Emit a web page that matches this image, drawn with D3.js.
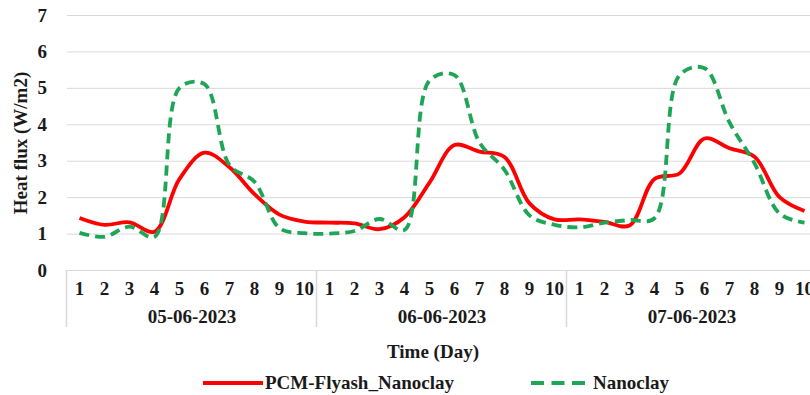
<!DOCTYPE html>
<html>
<head>
<meta charset="utf-8">
<script src="https://cdn.jsdelivr.net/npm/d3@7"></script>
<style>
    body { margin: 0; background: #fff; }
    svg { display: block; font-family: "Liberation Serif", "Times New Roman", serif; font-weight: bold; }
</style>
</head>
<body>
<svg id="chart"></svg>
<script>
// categories: 3 days x 10 readings
const dayLabels = ['1', '2', '3', '4', '5', '6', '7', '8', '9', '10'];
const dateLabels = ['05-06-2023', '06-06-2023', '07-06-2023'];
const yTicks = [0, 1, 2, 3, 4, 5, 6, 7];

// heat flux values (W/m2)
const pcmValues = [
    1.43, 1.24, 1.31, 1.05, 2.50, 3.22, 2.82, 2.08, 1.52, 1.33,
    1.30, 1.28, 1.12, 1.45, 2.40, 3.43, 3.25, 3.10, 1.83, 1.39,
    1.39, 1.32, 1.22, 2.50, 2.65, 3.61, 3.34, 3.11, 2.00, 1.62
];
const nanoValues = [
    1.02, 0.91, 1.19, 0.91, 5.00, 5.10, 2.88, 2.42, 1.15, 1.01,
    1.00, 1.07, 1.40, 1.10, 5.20, 5.35, 3.50, 2.75, 1.50, 1.24,
    1.17, 1.30, 1.37, 1.42, 5.35, 5.54, 4.05, 2.93, 1.55, 1.30
];

const seriesNames = ['PCM-Flyash_Nanoclay', 'Nanoclay'];

function drawChart() {
    const width = 810;
    const height = 395;
    const plot = { left: 67, right: 817, top: 15, bottom: 270 };
    const textColor = '#1a1a1a';
    const gridColor = '#d9d9d9';
    const red = '#ff0000';
    const green = '#1ea556';
    const fontSize = '19px';

    const svg = d3.select('#chart').attr('width', width).attr('height', height);

    const points = [];
    dateLabels.forEach((date, g) => {
        dayLabels.forEach((day, d) => {
            points.push({ key: `${g}-${d}`, date: date, day: day, group: g });
        });
    });

    const xScale = d3.scalePoint()
        .domain(points.map(p => p.key))
        .range([plot.left, plot.right])
        .padding(0.5);
    const step = xScale.step();

    const yScale = d3.scaleLinear()
        .domain([0, 7])
        .range([plot.bottom, plot.top]);

    // grid + y tick labels
    const yAxis = svg.append('g')
        .attr('transform', `translate(${plot.left}, 0)`)
        .call(d3.axisLeft(yScale)
            .tickValues(yTicks)
            .tickFormat(d3.format('d'))
            .tickSize(-(width - plot.left))
            .tickPadding(20));
    yAxis.select('.domain').remove();
    yAxis.selectAll('line').attr('stroke', gridColor).attr('stroke-width', 1);
    yAxis.selectAll('text')
        .attr('fill', textColor)
        .style('font-size', fontSize)
        .style('font-family', '"Liberation Serif", serif')
        .style('font-weight', 'bold');

    // category box lines (group separators)
    const groupEdges = d3.range(dateLabels.length + 1).map(g => plot.left + g * step * dayLabels.length);
    svg.append('g')
        .selectAll('line')
        .data(groupEdges)
        .enter()
        .append('line')
        .attr('x1', d => d - 0.5)
        .attr('x2', d => d - 0.5)
        .attr('y1', plot.bottom)
        .attr('y2', 327)
        .attr('stroke', gridColor)
        .attr('stroke-width', 1.5);

    // day labels
    svg.append('g')
        .selectAll('text')
        .data(points)
        .enter()
        .append('text')
        .attr('x', d => xScale(d.key))
        .attr('y', 295)
        .attr('text-anchor', 'middle')
        .attr('fill', textColor)
        .style('font-size', fontSize)
        .text(d => d.day);

    // date labels
    svg.append('g')
        .selectAll('text')
        .data(dateLabels)
        .enter()
        .append('text')
        .attr('x', (d, i) => (groupEdges[i] + groupEdges[i + 1]) / 2)
        .attr('y', 323)
        .attr('text-anchor', 'middle')
        .attr('fill', textColor)
        .style('font-size', fontSize)
        .text(d => d);

    // lines
    const line = d3.line()
        .x((d, i) => xScale(points[i].key))
        .y(d => yScale(d))
        .curve(d3.curveCatmullRom);

    svg.append('path')
        .datum(pcmValues)
        .attr('fill', 'none')
        .attr('stroke', red)
        .attr('stroke-width', 3.8)
        .attr('stroke-linejoin', 'round')
        .attr('d', line);

    svg.append('path')
        .datum(nanoValues)
        .attr('fill', 'none')
        .attr('stroke', green)
        .attr('stroke-width', 3.8)
        .attr('stroke-dasharray', '10 6')
        .attr('d', line);

    // axis titles
    svg.append('text')
        .attr('transform', 'translate(27, 143) rotate(-90)')
        .attr('text-anchor', 'middle')
        .attr('fill', textColor)
        .style('font-size', fontSize)
        .text('Heat flux (W/m2)');

    svg.append('text')
        .attr('x', 433)
        .attr('y', 358)
        .attr('text-anchor', 'middle')
        .attr('fill', textColor)
        .style('font-size', fontSize)
        .text('Time (Day)');

    // legend
    const legend = svg.append('g').attr('transform', 'translate(0, 383)');
    legend.append('line')
        .attr('x1', 203).attr('x2', 263)
        .attr('y1', 0).attr('y2', 0)
        .attr('stroke', red)
        .attr('stroke-width', 3.8);
    legend.append('text')
        .attr('x', 265)
        .attr('y', 6)
        .attr('fill', textColor)
        .style('font-size', fontSize)
        .text(seriesNames[0]);
    legend.append('line')
        .attr('x1', 531).attr('x2', 585)
        .attr('y1', 0).attr('y2', 0)
        .attr('stroke', green)
        .attr('stroke-width', 3.8)
        .attr('stroke-dasharray', '13 7.5');
    legend.append('text')
        .attr('x', 593)
        .attr('y', 6)
        .attr('fill', textColor)
        .style('font-size', fontSize)
        .text(seriesNames[1]);
}

drawChart();
</script>
</body>
</html>
